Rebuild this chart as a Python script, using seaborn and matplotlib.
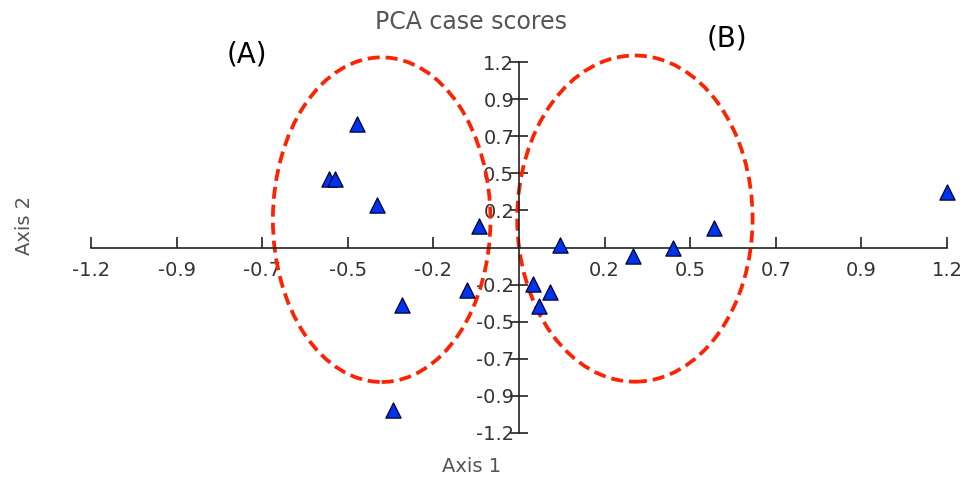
import matplotlib
matplotlib.use("Agg")
import matplotlib.pyplot as plt
from matplotlib.patches import Ellipse
import seaborn as sns
import pandas as pd

# PCA case scores
axis1 = [-0.453, -0.534, -0.515, -0.397, -0.111, -0.147, -0.327, -0.352,
         0.038, 0.086, 0.055, 0.114, 0.321, 0.433, 0.546, 1.200]
axis2 = [0.796, 0.446, 0.440, 0.272, 0.142, -0.278, -0.375, -1.054,
         -0.233, -0.290, -0.380, 0.013, -0.052, -0.006, 0.123, 0.356]

tick_pos = [-1.2, -0.96, -0.72, -0.48, -0.24, 0.24, 0.48, 0.72, 0.96, 1.2]
tick_labels = ["-1.2", "-0.9", "-0.7", "-0.5", "-0.2", "0.2", "0.5", "0.7", "0.9", "1.2"]

# group ellipses: (label, center x, center y, width, height)
groups = ["(A)", "(B)"]
group_centers = [(-0.385, 0.18), (0.325, 0.187)]
group_sizes = [(0.61, 2.10), (0.66, 2.11)]
group_label_pos = [(247, 55), (727, 39)]  # pixel positions of the labels


def main():
    sns.set_style("white")
    plt.rcParams["font.family"] = ["DejaVu Sans"]

    df = pd.DataFrame({"Axis 1": axis1, "Axis 2": axis2})

    fig = plt.figure(figsize=(9.74, 4.8), dpi=100)
    W, H = 974, 480
    ax = fig.add_axes([91 / W, (H - 433) / H, 856 / W, 371 / H])

    for (cx, cy), (w, h) in zip(group_centers, group_sizes):
        ax.add_patch(Ellipse((cx, cy), w, h, fill=False, edgecolor="#ff2200",
                             linestyle=(0, (3.2, 1.6)), linewidth=2.7,
                             clip_on=False, zorder=1))

    sns.scatterplot(df, x="Axis 1", y="Axis 2", marker="^", s=120,
                    color="#0033ee", edgecolor="#000033", linewidth=0.9,
                    ax=ax, clip_on=False, zorder=3)

    ax.set_xlim(-1.2, 1.2)
    ax.set_ylim(-1.2, 1.2)
    ax.spines["left"].set_position(("data", 0))
    ax.spines["bottom"].set_position(("data", 0))
    ax.spines["right"].set_visible(False)
    ax.spines["top"].set_visible(False)
    for s in ["left", "bottom"]:
        ax.spines[s].set_color("#222222")
        ax.spines[s].set_linewidth(1.2)

    ax.set_xticks(tick_pos)
    ax.set_xticklabels(tick_labels)
    ax.set_yticks(tick_pos)
    ax.set_yticklabels(tick_labels)
    ax.tick_params(axis="x", bottom=True, direction="in", length=8, width=1.2,
                   pad=10, labelsize=14, colors="#222222", labelcolor="#333333")
    ax.tick_params(axis="y", left=True, direction="inout", length=13, width=1.2,
                   pad=-3, labelsize=14, colors="#222222", labelcolor="#333333")
    ax.set_xlabel("")
    ax.set_ylabel("")

    fig.text(471 / W, 1 - 22 / H, "PCA case scores", ha="center", va="center",
             fontsize=17, color="#555555")
    fig.text(472 / W, 1 - 467 / H, "Axis 1", ha="center", va="center",
             fontsize=14, color="#555555")
    fig.text(25 / W, 1 - 225 / H, "Axis 2", ha="center", va="center",
             rotation=90, fontsize=14, color="#555555")
    for lab, (px, py) in zip(groups, group_label_pos):
        fig.text(px / W, 1 - py / H, lab, ha="center", va="center",
                 fontsize=20, color="black")

    fig.savefig("out.png", dpi=100)


if __name__ == "__main__":
    main()
